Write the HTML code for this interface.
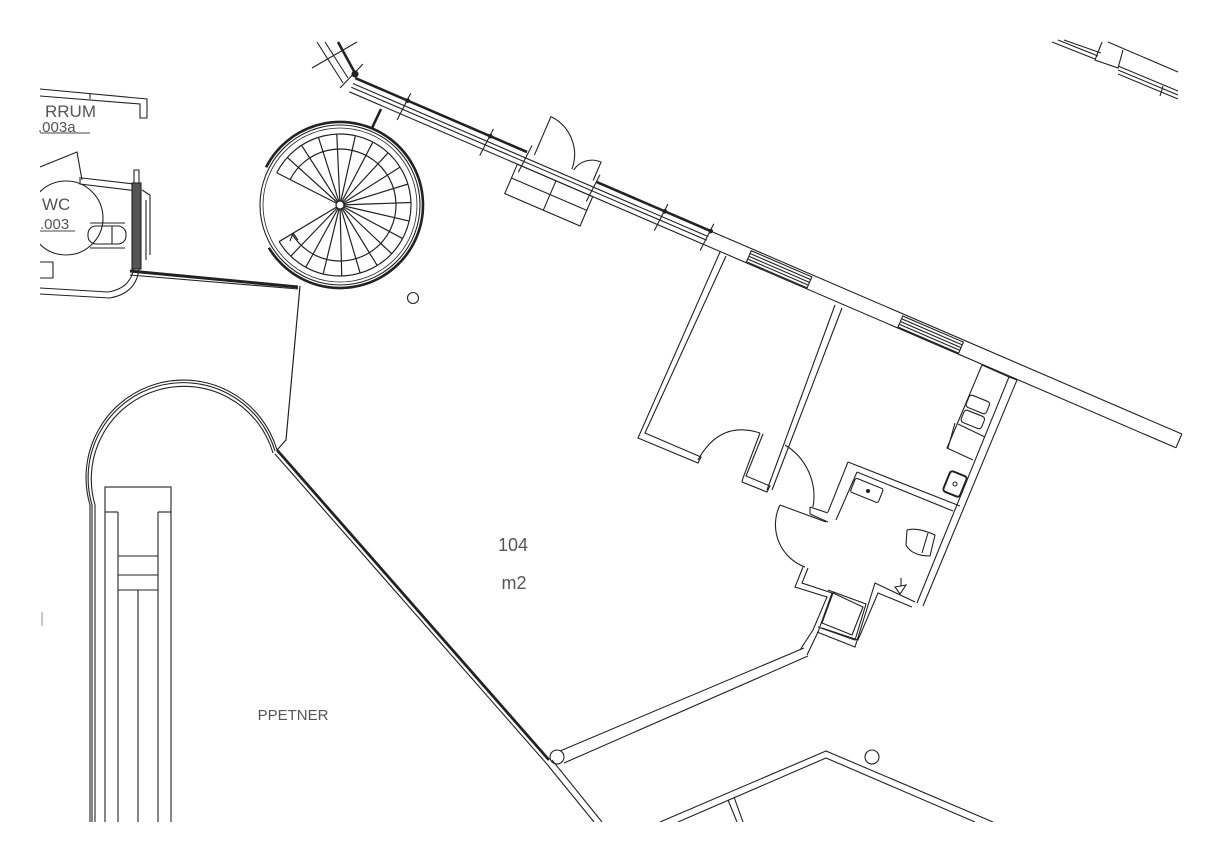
<!DOCTYPE html>
<html><head><meta charset="utf-8"><style>
html,body{margin:0;padding:0;background:#fff;}
svg{display:block}
text{font-family:"Liberation Sans",sans-serif;fill:#555}
</style></head><body>
<svg id="s" width="1220" height="862" viewBox="0 0 1220 862" xmlns="http://www.w3.org/2000/svg">
<defs><clipPath id="cl"><rect x="40" y="0" width="1180" height="822"/></clipPath></defs>
<g fill="none" stroke="#222" stroke-width="1.1" clip-path="url(#cl)">
<!-- main exterior wall (rotated frame) -->
<g transform="translate(527,152) rotate(23.3)">
  <line x1="-187" y1="0" x2="0" y2="0" stroke-width="2.6"/>
  <line x1="76" y1="0" x2="200" y2="0" stroke-width="2.6"/>
  <line x1="200" y1="0" x2="713" y2="0"/>
  <line x1="-187" y1="6" x2="200" y2="6"/>
  <line x1="-187" y1="10" x2="200" y2="10"/>
  <line x1="-187" y1="15" x2="713" y2="15"/>
  <line x1="713" y1="0" x2="713" y2="15"/>
  <line x1="-130" y1="-8" x2="-132" y2="22"/>
  <line x1="-40" y1="-8" x2="-42" y2="22"/>
  <line x1="2" y1="-8" x2="0" y2="22"/>
  <line x1="76" y1="-8" x2="74" y2="22"/>
  <line x1="150" y1="-8" x2="148" y2="22"/>
  <line x1="200" y1="-8" x2="198" y2="22"/>
  <circle cx="-130" cy="0" r="1.8" fill="#222"/><circle cx="-40" cy="0" r="1.8" fill="#222"/>
  <circle cx="150" cy="0" r="1.8" fill="#222"/><circle cx="200" cy="0" r="1.8" fill="#222"/>
  <path d="M8,0 L8,-42 A42,42 0 0 1 48,-2"/>
  <path d="M72,0 L72,-20 A22,22 0 0 0 50,-2"/>
  <rect x="-4" y="15" width="82" height="32"/>
  <line x1="-4" y1="30" x2="78" y2="30"/>
  <line x1="38" y1="15" x2="38" y2="47"/>
  <rect x="245" y="2" width="66" height="12"/>
  <line x1="245" y1="5" x2="311" y2="5"/><line x1="245" y1="8" x2="311" y2="8"/><line x1="245" y1="11" x2="311" y2="11"/>
  <rect x="410" y="2" width="66" height="12"/>
  <line x1="410" y1="5" x2="476" y2="5"/><line x1="410" y1="8" x2="476" y2="8"/><line x1="410" y1="11" x2="476" y2="11"/>
</g>
<line x1="338" y1="42" x2="355" y2="73" stroke-width="2.6"/>
<line x1="325" y1="42" x2="348" y2="78"/>
<line x1="317" y1="42" x2="343" y2="83"/>
<line x1="312" y1="68" x2="357" y2="42"/>
<line x1="340" y1="88" x2="363" y2="64"/>
<circle cx="355" cy="74" r="3" fill="#222"/>

<g id="sp"></g>
<line x1="372" y1="128" x2="381" y2="109" stroke-width="2.6"/>
<line x1="130" y1="271" x2="298" y2="287" stroke-width="3"/>
<line x1="130" y1="275" x2="298" y2="289"/>
<path d="M300,286 L286,440 L277,450" stroke-width="1.2"/>
<circle cx="413" cy="298" r="5.5"/>

<path d="M40,89 L147,99 L147,118 L140,118 L140,104 L40,96"/>
<line x1="90" y1="94" x2="90" y2="99"/>
<path d="M40,167 L77,152 L82,180"/>
<path d="M80,177 L80,184 L138,191 M82,178 L134,184 L134,170 L139,170 L139,268 Q137,293 110,298 L40,294 M134,184 L134,266 Q132,288 108,292 L40,288"/>
<circle cx="66" cy="218" r="37"/>
<rect x="88" y="226" width="38" height="18" rx="8"/>
<line x1="112" y1="226" x2="112" y2="244"/>
<line x1="90" y1="223" x2="125" y2="223"/><line x1="90" y1="248" x2="125" y2="248"/>
<rect x="132" y="183" width="9" height="86" fill="#555" stroke="#222"/>
<path d="M142,190 L150,195 L150,255 M146,200 L146,260"/>
<path d="M40,262 L53,262 L53,278 L40,278"/>

<path d="M90,822 L90,505 A94,94 0 0 1 277,450"/>
<path d="M92,822 L92,505 A92,92 0 0 1 275,451"/>
<path d="M95,822 L95,505 A89,89 0 0 1 273,453"/>
<rect x="105" y="487" width="66" height="340"/>
<line x1="105" y1="512" x2="118" y2="512"/><line x1="158" y1="512" x2="171" y2="512"/>
<line x1="118" y1="512" x2="118" y2="822"/><line x1="158" y1="512" x2="158" y2="822"/>
<line x1="138" y1="590" x2="138" y2="822"/>
<line x1="118" y1="556" x2="158" y2="556"/><line x1="118" y1="575" x2="158" y2="575"/><line x1="118" y1="590" x2="158" y2="590"/>
<line x1="42" y1="612" x2="42" y2="626" stroke="#999"/>

<line x1="277" y1="450" x2="549" y2="760" stroke-width="2.8"/>
<line x1="275" y1="454" x2="546" y2="763"/>
<line x1="546" y1="763" x2="594" y2="822"/><line x1="552" y1="760" x2="602" y2="822"/>
<circle cx="557" cy="757" r="7"/>
<line x1="560" y1="751" x2="804" y2="648"/><line x1="564" y1="763" x2="808" y2="656"/>

<path d="M720,252 L638,438 L698,463 L701,457 L645,433 L726,256"/>
<path d="M698,460 Q720,420 760,433"/>
<path d="M760,433 L743,478 L742,482 L767,492 L770,486 L746,476 L763,434"/>
<path d="M835,305 L767,490 M842,308 L772,490"/>
<path d="M848,462 L828,512 M857,472 L836,520"/>
<line x1="848" y1="462" x2="960" y2="506"/><line x1="857" y1="472" x2="953" y2="511"/>
<path d="M810,507 L828,513 M810,514 L828,522 M810,507 L810,514"/>
<path d="M785,445 A60,60 0 0 1 813,507"/>
<path d="M780,505 L826,522 M780,505 A45,45 0 0 0 805,567"/>
<path d="M803,567 L795,587 L827,597 L813,630 L800,650 M808,568 L802,583 L832,593 L818,632 L807,655"/>
<path d="M833,593 L863,607 L852,635 L822,623 Z M828,590 L866,604 L855,640 L818,627"/>
<path d="M817,632 L855,647 L875,583 L915,602 M822,628 L858,640 L878,593 L912,607"/>
<rect x="852" y="483" width="30" height="15" transform="rotate(22 867 490)" rx="2"/>
<circle cx="868" cy="491" r="1.5" fill="#222"/>
<path d="M907,530 Q918,527 935,535 L930,556 Q912,556 906,545 Z"/>
<line x1="928" y1="533" x2="922" y2="553"/>
<path d="M895,587 L906,585 L900,594 Z M901,578 L901,586"/>
<path d="M1009,377 L917,603 M1017,380 L923,606 M1009,377 L1017,380"/>
<path d="M982,365 L947,448 L973,460 M982,365 L1009,377"/>
<rect x="967" y="398" width="22" height="13" rx="3" transform="rotate(22 978 404)"/>
<rect x="962" y="413" width="22" height="13" rx="3" transform="rotate(22 973 419)"/>
<path d="M955,423 L948,448 M958,424 L985,437"/>
<rect x="946" y="473" width="18" height="22" rx="3" stroke-width="2" transform="rotate(22 955 484)"/>
<circle cx="955" cy="484" r="2"/>

<path d="M1052,42 L1095,59 M1058,40 L1098,56 M1064,40 L1101,53"/>
<path d="M1102,42 L1095,60 L1118,68 L1123,50"/>
<path d="M1108,42 L1178,72"/>
<path d="M1118,66 L1178,91 M1118,70 L1178,95 M1118,74 L1178,99 M1163,86 L1160,96"/>

<path d="M660,822 L826,751 L993,822"/>
<path d="M678,822 L826,758 L975,822"/>
<path d="M728,800 L737,822 M734,797 L743,822"/>
<circle cx="872" cy="757" r="7"/>
</g>
<text x="513" y="551" font-size="18" text-anchor="middle">104</text>
<text x="514" y="589" font-size="18" text-anchor="middle">m2</text>
<text x="293" y="720" font-size="15" text-anchor="middle">PPETNER</text>
<text x="45" y="117" font-size="17" fill="#444">RRUM</text>
<text x="38" y="132" font-size="15" fill="#444">.003a</text>
<line x1="40" y1="133" x2="90" y2="133" stroke="#444"/>
<text x="42" y="210" font-size="17" fill="#444">WC</text>
<text x="40" y="229" font-size="15" fill="#444">.003</text>
<line x1="40" y1="231" x2="75" y2="231" stroke="#444"/>
</svg>
<script>
(function(){
var g=document.getElementById('sp'),cx=340,cy=205,h='';
function P(a,r){a=a*Math.PI/180;return [cx+r*Math.cos(a),cy+r*Math.sin(a)];}
h+='<circle cx="'+cx+'" cy="'+cy+'" r="80" fill="none" stroke="#222" stroke-width="1.1"/>';
h+='<circle cx="'+cx+'" cy="'+cy+'" r="77" fill="none" stroke="#222" stroke-width="0.8"/>';
var a1=207,a2=509;
function arc(r,w){var s=P(a1,r),e=P(a2,r);return '<path d="M'+s[0]+','+s[1]+' A'+r+','+r+' 0 1 1 '+e[0]+','+e[1]+'" fill="none" stroke="#222" stroke-width="'+w+'"/>';}
h+=arc(83,2.6);h+=arc(71,1.2);h+=arc(56,1.2);
for(var i=0;i<=20;i++){var a=a1+(a2-a1)*i/20,p=P(a,71);h+='<line x1="'+cx+'" y1="'+cy+'" x2="'+p[0]+'" y2="'+p[1]+'" stroke="#222" stroke-width="1.2"/>';}
h+='<circle cx="'+cx+'" cy="'+cy+'" r="4" fill="#fff" stroke="#222" stroke-width="1.2"/>';
h+='<path d="M293,233 L298,240 M293,233 L290,241" fill="none" stroke="#222"/>';
g.innerHTML=h;
})();
</script>
</body></html>
